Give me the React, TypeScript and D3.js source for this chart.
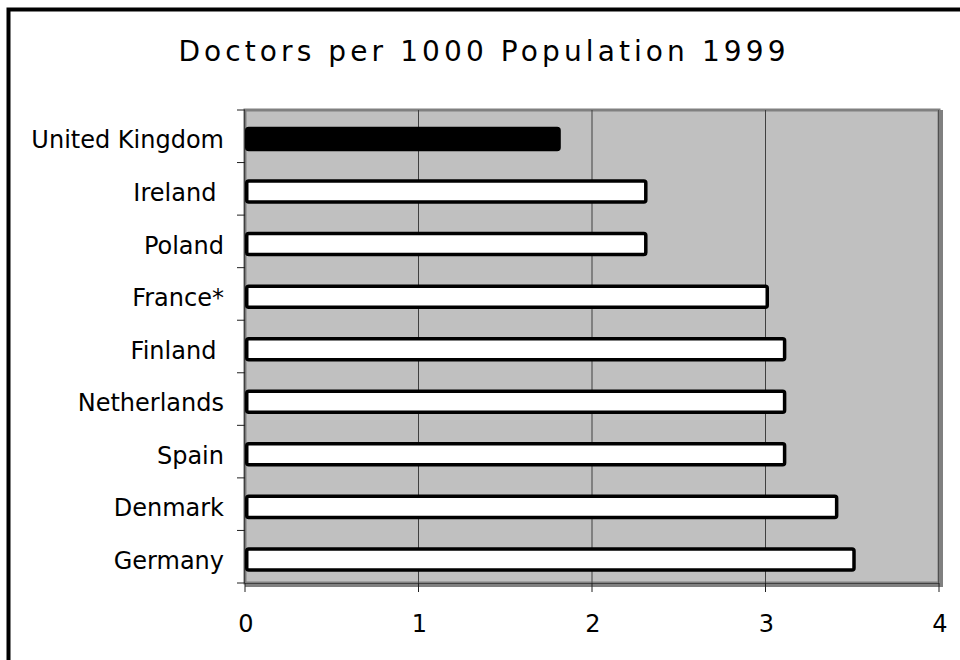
import React from "react";
import * as d3 from "d3";

const categories = [
  "United Kingdom",
  "Ireland ",
  "Poland",
  "France*",
  "Finland ",
  "Netherlands",
  "Spain",
  "Denmark",
  "Germany",
];
const values = [1.8, 2.3, 2.3, 3.0, 3.1, 3.1, 3.1, 3.4, 3.5];
const highlighted = ["United Kingdom"];
const xTicks = [0, 1, 2, 3, 4];
const title = "Doctors per 1000 Population 1999";

const W = 960;
const H = 660;
const plot = { left: 245, right: 939, top: 110, bottom: 583 };
const FONT = "'DejaVu Sans', Verdana, sans-serif";

export default function App() {
  const x = d3.scaleLinear().domain([0, 4]).range([plot.left, plot.right]);
  const y = d3
    .scaleBand<string>()
    .domain(categories)
    .range([plot.top, plot.bottom])
    .paddingInner(0.6)
    .paddingOuter(0.3)
    .align(0.586);
  const step = (plot.bottom - plot.top) / categories.length;
  const bw = y.bandwidth();

  return (
    <svg
      width={W}
      height={H}
      style={{ position: "absolute", left: 0, top: 0, background: "#fff" }}
      fontFamily={FONT}
    >
      <rect x={0} y={0} width={W} height={H} fill="#fff" />
      {/* outer frame */}
      <rect x={8.5} y={9.5} width={1100} height={900} fill="none" stroke="#000" strokeWidth={4} />

      <text
        x={484}
        y={61}
        textAnchor="middle"
        fontSize={28}
        letterSpacing={4.1}
        fill="#000"
      >
        {title}
      </text>

      {/* plot area */}
      <rect x={plot.right} y={plot.top} width={4} height={plot.bottom - plot.top + 4} fill="#808080" />
      <rect x={plot.left} y={plot.bottom} width={plot.right - plot.left + 4} height={4} fill="#808080" />
      <rect
        x={plot.left}
        y={plot.top}
        width={plot.right - plot.left}
        height={plot.bottom - plot.top}
        fill="#C0C0C0"
        stroke="#808080"
        strokeWidth={3}
      />
      <line x1={plot.right - 0.5} x2={plot.right - 0.5} y1={plot.top} y2={plot.bottom} stroke="#505050" strokeWidth={1} />

      {/* gridlines */}
      {xTicks
        .filter((t) => t > 0 && t < 4)
        .map((t) => (
          <line
            key={"g" + t}
            x1={x(t)}
            x2={x(t)}
            y1={plot.top}
            y2={plot.bottom}
            stroke="#404040"
            strokeWidth={1}
          />
        ))}

      {/* axes */}
      <line x1={plot.left - 0.5} x2={plot.left - 0.5} y1={plot.top} y2={plot.bottom} stroke="#404040" strokeWidth={1.2} />
      <line x1={plot.left} x2={plot.right} y1={plot.bottom + 0.5} y2={plot.bottom + 0.5} stroke="#404040" strokeWidth={1.2} />

      {/* category ticks */}
      {d3.range(categories.length + 1).map((i) => (
        <line
          key={"ct" + i}
          x1={plot.left - 8}
          x2={plot.left}
          y1={plot.top + i * step}
          y2={plot.top + i * step}
          stroke="#202020"
          strokeWidth={1}
        />
      ))}

      {/* value ticks */}
      {xTicks.map((t) => (
        <g key={"xt" + t}>
          <line x1={x(t)} x2={x(t)} y1={plot.bottom} y2={plot.bottom + 9} stroke="#202020" strokeWidth={1} />
          <text x={x(t) + 1} y={632} textAnchor="middle" fontSize={24} fill="#000">
            {t}
          </text>
        </g>
      ))}

      {/* bars */}
      {categories.map((c, i) => (
        <rect
          key={"b" + c}
          x={x(0) + 1.75}
          y={y(c)!}
          width={x(values[i]) - x(0)}
          height={bw}
          rx={2}
          fill={highlighted.includes(c) ? "#000" : "#fff"}
          stroke="#000"
          strokeWidth={3.5}
        />
      ))}

      {/* category labels */}
      {categories.map((c) => (
        <text
          key={"l" + c}
          x={224}
          y={y(c)! + bw / 2 + 9.5}
          textAnchor="end"
          fontSize={24}
          fill="#000"
          style={{ whiteSpace: "pre" }}
        >
          {c}
        </text>
      ))}
    </svg>
  );
}
